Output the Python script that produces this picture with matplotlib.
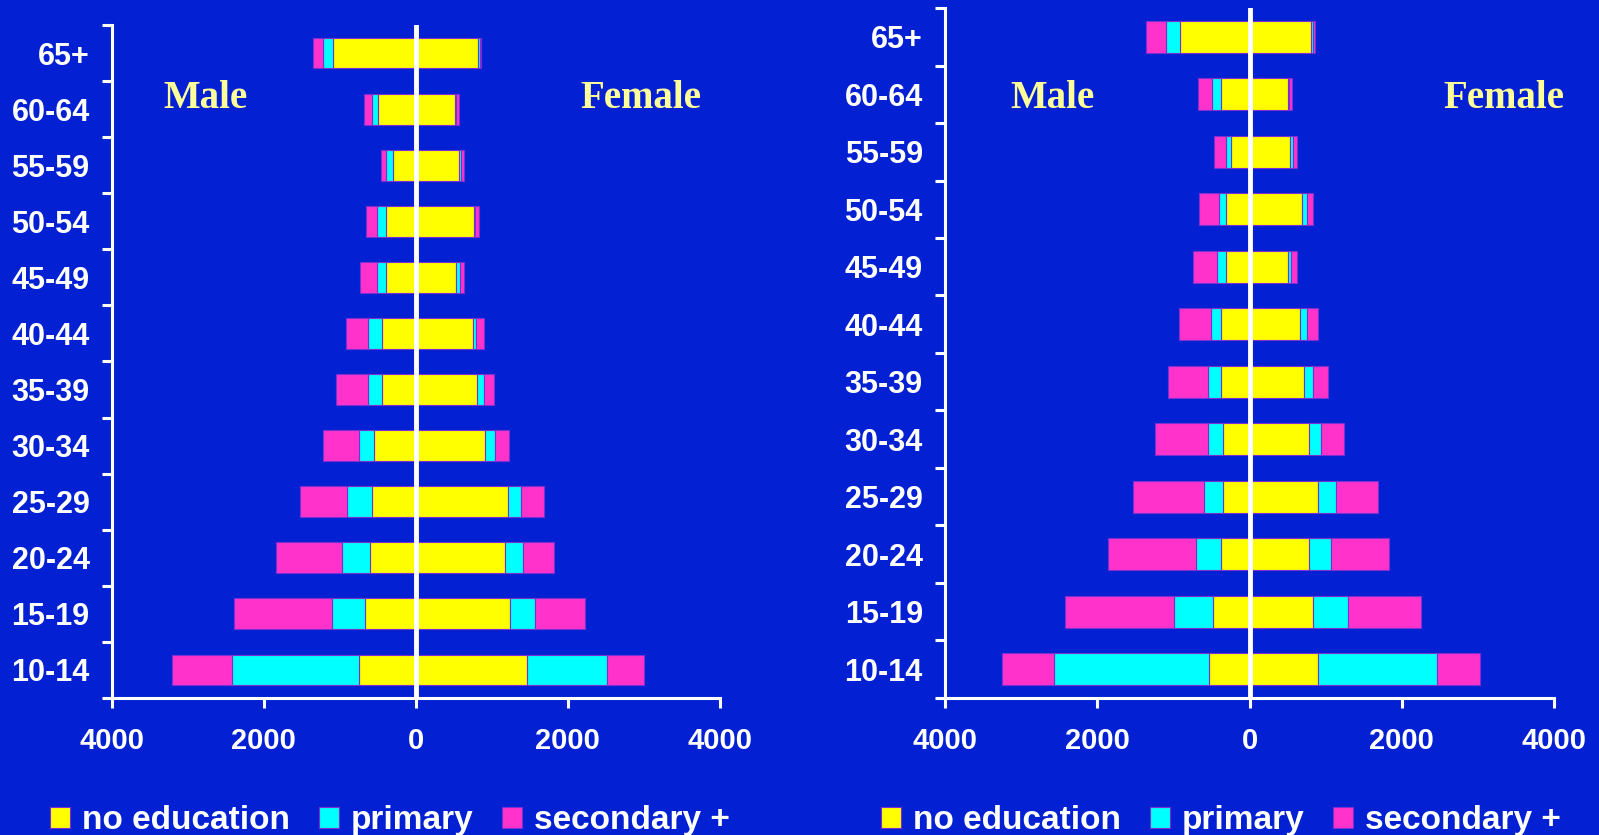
import numpy as np
import matplotlib
matplotlib.use("Agg")
import matplotlib.pyplot as plt
from matplotlib.ticker import FixedLocator, FuncFormatter
from matplotlib.patches import Patch

# age groups, top to bottom
ages = ["65+", "60-64", "55-59", "50-54", "45-49", "40-44",
        "35-39", "30-34", "25-29", "20-24", "15-19", "10-14"]

# left pyramid
left_male_noed = [1089, 500, 304, 387, 387, 449, 449, 557, 583, 604, 666, 753]
left_male_prim = [134, 72, 83, 119, 119, 186, 186, 196, 320, 366, 439, 1667]
left_male_sec = [129, 114, 77, 150, 232, 284, 418, 470, 619, 867, 1285, 784]
left_female_noed = [820, 521, 562, 764, 531, 748, 800, 913, 1213, 1166, 1233, 1465]
left_female_prim = [21, 10, 31, 15, 46, 46, 98, 134, 170, 237, 330, 1053]
left_female_sec = [21, 30, 36, 52, 52, 103, 134, 181, 299, 413, 666, 485]

# right pyramid
right_male_noed = [915, 380, 244, 307, 307, 380, 380, 354, 354, 380, 478, 530]
right_male_prim = [182, 114, 62, 88, 120, 130, 166, 192, 244, 317, 520, 2038]
right_male_sec = [265, 187, 166, 265, 317, 421, 520, 702, 936, 1160, 1430, 686]
right_female_noed = [801, 504, 536, 686, 499, 666, 712, 785, 900, 785, 837, 900]
right_female_prim = [31, 15, 31, 68, 47, 88, 125, 151, 239, 281, 452, 1565]
right_female_sec = [31, 42, 62, 78, 83, 140, 198, 302, 551, 764, 957, 556]

edu_labels = ["no education", "primary", "secondary +"]
xticks = [-4000, -2000, 0, 2000, 4000]

BG = "#0321D2"
COLS = ["#FFFF00", "#00FFFF", "#FF33CC"]
EDGE = "#7a2fd0"
SANS = "Liberation Sans"

fig = plt.figure(figsize=(15.99, 8.35), dpi=100, facecolor=BG)


def pyramid(ax, male, female, male_pos, female_pos):
    y = np.arange(len(ages))
    h = 0.55
    mstart = np.zeros(len(ages))
    fstart = np.zeros(len(ages))
    for k in range(3):
        m = np.array(male[k])
        f = np.array(female[k])
        ax.barh(y, -m, left=-mstart, height=h, color=COLS[k],
                edgecolor=EDGE, linewidth=0.8, zorder=2)
        ax.barh(y, f, left=fstart, height=h, color=COLS[k],
                edgecolor=EDGE, linewidth=0.8, zorder=2)
        mstart += m
        fstart += f
    ax.axvline(0, color="white", lw=3.5, zorder=3)

    ax.set_facecolor(BG)
    ax.set_xlim(-4000, 4000)
    ax.set_ylim(len(ages) - 0.5, -0.5)
    for s in ["top", "right"]:
        ax.spines[s].set_visible(False)
    for s in ["left", "bottom"]:
        ax.spines[s].set_color("white")
        ax.spines[s].set_linewidth(2.2)

    ax.set_yticks(y)
    ax.set_yticklabels(ages)
    ax.yaxis.set_minor_locator(FixedLocator(np.arange(len(ages) + 1) - 0.5))
    ax.tick_params(axis="y", which="major", length=0, pad=16,
                   labelsize=22, labelcolor="white")
    ax.tick_params(axis="y", which="minor", length=7, width=2.2, color="white")
    ax.set_xticks(xticks)
    ax.xaxis.set_major_formatter(FuncFormatter(lambda v, p: f"{abs(int(v))}"))
    ax.tick_params(axis="x", length=7, width=2.2, color="white", pad=14,
                   labelsize=21, labelcolor="white")
    for t in ax.get_xticklabels() + ax.get_yticklabels():
        t.set_fontfamily(SANS)
        t.set_fontweight("bold")

    ax.text(male_pos[0], male_pos[1], "Male", transform=ax.transAxes,
            family="Liberation Serif", weight="bold", fontsize=28,
            color="#FFFF99", ha="left", va="center")
    ax.text(female_pos[0], female_pos[1], "Female", transform=ax.transAxes,
            family="Liberation Serif", weight="bold", fontsize=28,
            color="#FFFF99", ha="left", va="center")


ax1 = fig.add_axes([0.0700, 0.1641, 0.3802, 0.8060])
pyramid(ax1, [left_male_noed, left_male_prim, left_male_sec],
        [left_female_noed, left_female_prim, left_female_sec],
        (0.084, 0.891), (0.771, 0.891))

ax2 = fig.add_axes([0.5910, 0.1641, 0.3809, 0.8263])
pyramid(ax2, [right_male_noed, right_male_prim, right_male_sec],
        [right_female_noed, right_female_prim, right_female_sec],
        (0.107, 0.869), (0.818, 0.869))

handles = [Patch(facecolor=c, edgecolor=EDGE, linewidth=0.8) for c in COLS]
for x0 in [37 / 1599, 868 / 1599]:
    leg = fig.legend(handles, edu_labels, loc="lower left",
                     bbox_to_anchor=(x0, -0.017), ncol=3, frameon=False,
                     handlelength=0.6, handleheight=0.6, handletextpad=0.36,
                     columnspacing=0.85, borderaxespad=0.0,
                     prop={"family": SANS, "weight": "bold", "size": 24})
    for t in leg.get_texts():
        t.set_color("white")

fig.savefig("out.png", dpi=100, facecolor=BG)
